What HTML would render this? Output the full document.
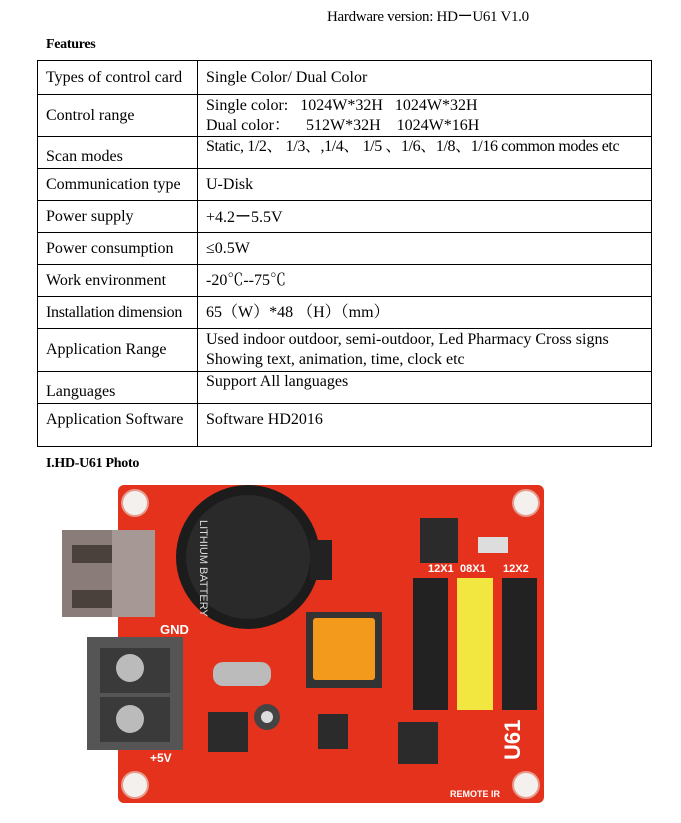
<!DOCTYPE html>
<html><head><meta charset="utf-8"><style>
body{margin:0;width:681px;height:823px;background:#fff;position:relative;overflow:hidden;font-family:"Liberation Serif","Noto Serif CJK SC",serif;color:#000}
.t{position:absolute;white-space:nowrap;font-size:15px;letter-spacing:-0.3px}
.b{font-weight:bold}
table{position:absolute;left:37px;top:60px;border-collapse:collapse;width:615px;table-layout:fixed}
td{border:1.5px solid #000;font-size:16px;letter-spacing:0px;padding:0 0 0 8px;vertical-align:middle;line-height:20px;white-space:nowrap;overflow:hidden}
</style></head><body>
<div class="t" style="left:327px;top:5px">Hardware version: HD<span style="font-family:'Noto Sans CJK SC',sans-serif">ー</span>U61 V1.0</div>
<div class="t b" style="left:46px;top:37px;font-size:14px">Features</div>
<table>
<colgroup><col style="width:160px"><col></colgroup>
<tr style="height:34px"><td>Types of control card</td><td>Single Color/ Dual Color</td></tr>
<tr style="height:42px"><td>Control range</td><td>Single color:&nbsp;&nbsp;&nbsp;1024W*32H&nbsp;&nbsp;&nbsp;1024W*32H<br>Dual color：&nbsp;&nbsp;&nbsp;&nbsp;512W*32H&nbsp;&nbsp;&nbsp;&nbsp;1024W*16H</td></tr>
<tr style="height:32px"><td style="padding-top:8px">Scan modes</td><td style="vertical-align:top;letter-spacing:-0.4px">Static, 1/2、 1/3、,1/4、 1/5 、1/6、1/8、1/16 common modes etc</td></tr>
<tr style="height:32px"><td>Communication type</td><td>U-Disk</td></tr>
<tr style="height:32px"><td>Power supply</td><td>+4.2<span style="font-family:'Noto Sans CJK SC',sans-serif">ー</span>5.5V</td></tr>
<tr style="height:32px"><td>Power consumption</td><td>≤0.5W</td></tr>
<tr style="height:32px"><td>Work environment</td><td>-20℃--75℃</td></tr>
<tr style="height:32px"><td style="letter-spacing:-0.3px">Installation dimension</td><td>65（W）*48 （H）（mm）</td></tr>
<tr style="height:43px"><td>Application Range</td><td>Used indoor outdoor, semi-outdoor, Led Pharmacy Cross signs<br>Showing text, animation, time, clock etc</td></tr>
<tr style="height:32px"><td style="padding-top:8px">Languages</td><td style="vertical-align:top">Support All languages</td></tr>
<tr style="height:43px"><td style="vertical-align:top;padding-top:6px">Application Software</td><td style="vertical-align:top;padding-top:6px">Software HD2016</td></tr>
</table>
<div class="t b" style="left:46px;top:456px;font-size:14px">I.HD-U61 Photo</div>
<svg style="position:absolute;left:0;top:0" width="681" height="823">
<rect x="118" y="485" width="426" height="318" rx="6" fill="#e5321c"/>
<g fill="#f4f0ee" stroke="#e59a8c" stroke-width="2">
<circle cx="135" cy="503" r="13"/><circle cx="526" cy="503" r="13"/><circle cx="135" cy="785" r="13"/><circle cx="526" cy="785" r="13"/></g>
<rect x="62" y="530" width="93" height="87" fill="#8a7c78"/>
<rect x="72" y="545" width="40" height="18" fill="#4a403c"/><rect x="72" y="590" width="40" height="18" fill="#4a403c"/>
<rect x="112" y="530" width="43" height="87" fill="#a69894"/>
<rect x="87" y="637" width="96" height="113" fill="#555"/>
<rect x="100" y="648" width="70" height="45" fill="#3a3a3a"/><rect x="100" y="697" width="70" height="45" fill="#3a3a3a"/>
<circle cx="130" cy="668" r="14" fill="#bbb"/><circle cx="130" cy="719" r="14" fill="#bbb"/>
<circle cx="248" cy="557" r="72" fill="#1c1c1c"/>
<rect x="310" y="540" width="22" height="40" fill="#222"/>
<circle cx="248" cy="557" r="62" fill="#2a2a2a"/>
<text x="0" y="0" transform="translate(200,520) rotate(90)" fill="#ddd" font-family="Liberation Sans" font-size="11">LITHIUM BATTERY</text>
<rect x="306" y="612" width="76" height="76" fill="#333"/>
<rect x="313" y="618" width="62" height="62" rx="3" fill="#f39a1c"/>
<rect x="213" y="662" width="58" height="24" rx="10" fill="#bbb"/>
<rect x="413" y="578" width="35" height="132" fill="#222"/>
<rect x="457" y="578" width="36" height="132" fill="#f2e640"/>
<rect x="502" y="578" width="35" height="132" fill="#222"/>
<rect x="420" y="518" width="38" height="45" fill="#2b2b2b"/>
<rect x="398" y="722" width="40" height="42" fill="#2b2b2b"/>
<rect x="318" y="714" width="30" height="35" fill="#2b2b2b"/>
<rect x="208" y="712" width="40" height="40" fill="#2b2b2b"/>
<circle cx="267" cy="717" r="13" fill="#444"/><circle cx="267" cy="717" r="6" fill="#ddd"/>
<rect x="478" y="537" width="30" height="16" fill="#ddd"/>
<g fill="#fff" font-family="Liberation Sans" font-weight="bold">
<text x="160" y="634" font-size="13">GND</text>
<text x="150" y="762" font-size="12">+5V</text>
<text x="428" y="572" font-size="11">12X1</text><text x="460" y="572" font-size="11">08X1</text><text x="503" y="572" font-size="11">12X2</text>
<text transform="translate(520,760) rotate(-90)" font-size="22">U61</text>
<text x="450" y="797" font-size="9">REMOTE IR</text>
</g>
</svg>
</body></html>
